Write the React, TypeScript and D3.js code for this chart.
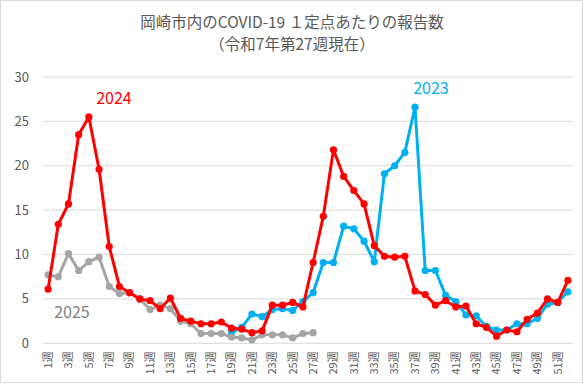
import React from "react";
import * as d3 from "d3";

const weeks = d3.range(1, 53);

// 2023年（第19週から）
const values2023 = [
  null, null, null, null, null, null, null, null, null, null,
  null, null, null, null, null, null, null, null,
  1.2, 1.8, 3.3, 3.0, 3.8, 3.9, 3.7, 4.7, 5.7, 9.1, 9.1, 13.2,
  12.9, 11.5, 9.2, 19.1, 20.0, 21.5, 26.6, 8.2, 8.2, 5.4,
  4.7, 3.2, 3.1, 1.9, 1.5, 1.5, 2.2, 2.2, 2.8, 4.4, 4.6, 5.8,
];

const values2024 = [
  6.1, 13.4, 15.7, 23.5, 25.5, 19.6, 10.9, 6.4, 5.7, 5.0,
  4.8, 3.9, 5.1, 2.8, 2.5, 2.2, 2.2, 2.4, 1.7, 1.6,
  1.2, 1.4, 4.3, 4.3, 4.6, 4.1, 9.1, 14.3, 21.8, 18.8,
  17.2, 15.7, 11.0, 9.8, 9.7, 9.8, 5.9, 5.5, 4.3, 4.8,
  4.1, 4.2, 2.2, 1.8, 0.8, 1.5, 1.3, 2.7, 3.4, 5.0, 4.6, 7.1,
];

const values2025 = [
  7.7, 7.5, 10.1, 8.2, 9.2, 9.7, 6.4, 5.6, 5.7, 5.0,
  3.8, 4.3, 3.9, 2.5, 2.2, 1.1, 1.1, 1.1, 0.7, 0.6,
  0.4, 0.95, 0.95, 0.95, 0.6, 1.1, 1.2,
];

const yTicks = [0, 5, 10, 15, 20, 25, 30];

const series = [
  { name: "2023", values: values2023, color: "#00B0F0", labelColor: "#00B0F0", labelAt: [431, 94] },
  { name: "2025", values: values2025, color: "#A5A5A5", labelColor: "#7F7F7F", labelAt: [72, 318] },
  { name: "2024", values: values2024, color: "#FF0000", labelColor: "#FF0000", labelAt: [114, 104] },
];

const W = 584;
const H = 384;
const margin = { top: 77, right: 11, bottom: 40.7, left: 43 };

export default function App() {
  document.body.style.margin = "0";

  const x = d3
    .scalePoint<number>()
    .domain(weeks)
    .range([margin.left, W - margin.right])
    .padding(0.5);

  const y = d3
    .scaleLinear()
    .domain([0, 30])
    .range([H - margin.bottom, margin.top]);

  const line = d3
    .line<number | null>()
    .defined((d) => d != null)
    .x((d, i) => x(weeks[i]) as number)
    .y((d) => y(d as number));

  const font = "'Noto Sans CJK JP', 'Noto Sans', sans-serif";

  return (
    <svg width={W} height={H} style={{ display: "block", fontFamily: font }}>
      <rect x={0.5} y={0.5} width={W - 2} height={H - 2} fill="#fff" stroke="#D9D9D9" />
      <text x={292} y={28} textAnchor="middle" fontSize={15.5} fill="#595959">
        岡崎市内のCOVID-19 １定点あたりの報告数
      </text>
      <text x={292} y={50} textAnchor="middle" fontSize={15.5} fill="#595959">
        （令和7年第27週現在）
      </text>

      {yTicks.map((t) => (
        <g key={t}>
          <line
            x1={margin.left}
            x2={W - margin.right}
            y1={y(t)}
            y2={y(t)}
            stroke="#D9D9D9"
            strokeWidth={1}
          />
          <text x={29} y={y(t)} dy="0.35em" textAnchor="end" fontSize={13} fill="#595959">
            {t}
          </text>
        </g>
      ))}

      {weeks
        .filter((w) => w % 2 === 1)
        .map((w) => (
          <text
            key={w}
            transform={`translate(${x(w)},${H - margin.bottom + 8}) rotate(-90)`}
            dy="0.35em"
            textAnchor="end"
            fontSize={11}
            fill="#595959"
          >
            {w}週
          </text>
        ))}

      {series.map((s) => (
        <g key={s.name}>
          <path d={line(s.values) || ""} fill="none" stroke={s.color} strokeWidth={3} strokeLinejoin="round" />
          {s.values.map((v, i) =>
            v == null ? null : (
              <circle key={i} cx={x(weeks[i])} cy={y(v)} r={3.6} fill={s.color} />
            )
          )}
        </g>
      ))}

      {series.map((s) => (
        <text
          key={s.name}
          x={s.labelAt[0]}
          y={s.labelAt[1]}
          textAnchor="middle"
          fontSize={16}
          fill={s.labelColor}
        >
          {s.name}
        </text>
      ))}
    </svg>
  );
}
